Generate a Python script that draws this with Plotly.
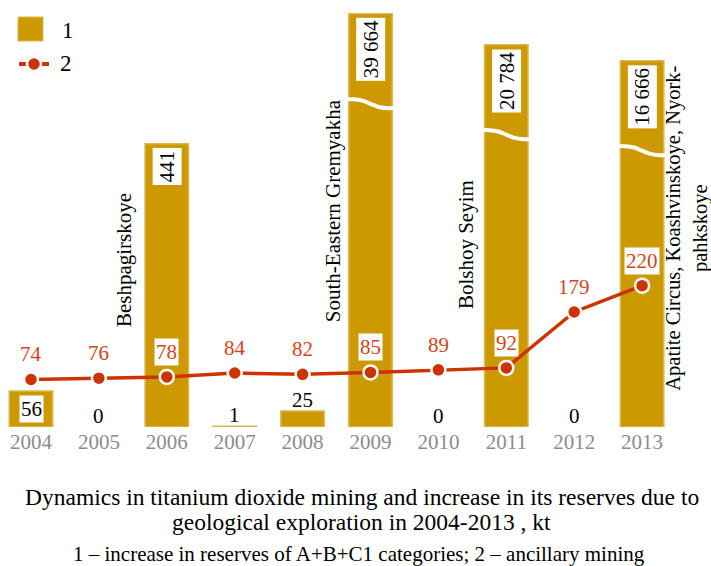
import plotly.graph_objects as go

# ---------------- data ----------------
years = [2004, 2005, 2006, 2007, 2008, 2009, 2010, 2011, 2012, 2013]
reserves_increase = [56, 0, 441, 1, 25, 39664, 0, 20784, 0, 16666]   # series 1, kt
ancillary_mining = [74, 76, 78, 84, 82, 85, 89, 92, 179, 220]         # series 2, kt
reserve_labels = ["56", "0", "441", "1", "25", "39 664", "0", "20 784", "0", "16 666"]
deposit_years = [2006, 2009, 2011, 2013]
deposit_names = ["Beshpagirskoye", "South-Eastern Gremyakha", "Bolshoy Seyim",
                 "Apatite Circus, Koashvinskoye, Nyork-<br>pahkskoye"]
title_lines = ["Dynamics in titanium dioxide mining and increase in its reserves due to",
               "geological exploration in 2004-2013 , kt"]
caption = "1 – increase in reserves of A+B+C1 categories; 2 – ancillary mining"
legend_names = ["1", "2"]

# ---------------- style ----------------
FONT = "Liberation Serif"
GOLD = "#cc9900"
GOLD_EDGE = "#dbb84d"
RED = "#cc3300"
RED_TXT = "#d2441c"
GRAY = "#8c8c8c"
W, H = 711, 566
MT, MB = 10, 139
PLOT_H = H - MT - MB
Y_MAX = 649
X0 = 2004 - 31 / 67.9
X1 = X0 + W / 67.9
BREAK_AT = 1000          # values above this are drawn on a broken (compressed) scale


def drawn(v):
    """Height used for drawing: linear below the break, saturating-compressed above it."""
    if v == 0:
        return None
    if v <= BREAK_AT:
        return v
    return 696 - 2.1e6 / v


bar_heights = [drawn(v) for v in reserves_increase]

fig = go.Figure()
fig.add_trace(go.Bar(
    x=years, y=bar_heights, width=0.64,
    marker=dict(color=GOLD, line=dict(color=GOLD_EDGE, width=1.5)),
    hoverinfo="skip", name=legend_names[0],
))

# break marks on the compressed bars
for yr, v, h in zip(years, reserves_increase, bar_heights):
    if v > BREAK_AT:
        yb = h - 140
        dx = [-0.36, -0.25, -0.12, 0, 0.12, 0.25, 0.36]
        dy = [7, 7, 5, 0, -5, -7, -7]
        fig.add_trace(go.Scatter(
            x=[yr + d for d in dx], y=[yb + d for d in dy], mode="lines",
            line=dict(color="white", width=4, shape="spline"),
            hoverinfo="skip", showlegend=False,
        ))

fig.add_trace(go.Scatter(
    x=years, y=ancillary_mining, mode="lines+markers",
    line=dict(color=RED, width=3.5),
    marker=dict(color=RED, size=14, line=dict(color="white", width=2.5)),
    name=legend_names[1],
))

ann = []
# bar value labels
for yr, v, h, lab in zip(years, reserves_increase, bar_heights, reserve_labels):
    if h is None or h < 50:
        ann.append(dict(x=yr, y=(h or 0), text=lab, showarrow=False, yanchor="bottom",
                        yshift=-3, font=dict(family=FONT, size=21, color="black")))
    elif len(lab) <= 2:
        ann.append(dict(x=yr, y=h, text=lab, showarrow=False, yanchor="top", yshift=-4,
                        bgcolor="white", borderpad=1,
                        font=dict(family=FONT, size=21, color="black")))
    else:
        ann.append(dict(x=yr, y=h, text=lab, showarrow=False, yanchor="top", yshift=-4,
                        textangle=-90, bgcolor="white", borderpad=2,
                        font=dict(family=FONT, size=21, color="black")))

# line value labels
for yr, v, h in zip(years, ancillary_mining, bar_heights):
    inside = h is not None and h > v
    ann.append(dict(x=yr, y=v, text=str(v), showarrow=False, yanchor="middle", yshift=25,
                    bgcolor="white" if inside else None, borderpad=1,
                    font=dict(family=FONT, size=21, color=RED_TXT)))

# deposit names
dep_pos = {2006: (-0.62, 152, "bottom"), 2009: (-0.56, 160, "bottom"),
           2011: (-0.59, 180, "bottom"), 2013: (0.66, 310, "middle")}
for yr, name in zip(deposit_years, deposit_names):
    dx, yy, ya = dep_pos[yr]
    ann.append(dict(x=yr + dx, y=yy, text=name, showarrow=False, textangle=-90,
                    yanchor=ya, align="center",
                    font=dict(family=FONT, size=21 if yr != 2013 else 20.5, color="black")))


def py(px):
    return (H - MB - px) / PLOT_H


# titles
ann.append(dict(xref="paper", yref="paper", x=0.509, y=py(497), text=title_lines[0],
                showarrow=False, yanchor="middle", font=dict(family=FONT, size=23.5, color="black")))
ann.append(dict(xref="paper", yref="paper", x=0.509, y=py(522), text=title_lines[1],
                showarrow=False, yanchor="middle", font=dict(family=FONT, size=23.5, color="black")))
ann.append(dict(xref="paper", yref="paper", x=0.505, y=py(554), text=caption,
                showarrow=False, yanchor="middle", font=dict(family=FONT, size=21, color="black")))

# legend (drawn)
ann.append(dict(xref="paper", yref="paper", x=60 / W, y=py(30), text=legend_names[0], xanchor="left",
                showarrow=False, yanchor="middle", font=dict(family=FONT, size=23, color="black")))
ann.append(dict(xref="paper", yref="paper", x=58 / W, y=py(64), text=legend_names[1], xanchor="left",
                showarrow=False, yanchor="middle", font=dict(family=FONT, size=23, color="black")))
shapes = [
    dict(type="rect", xref="paper", yref="paper", x0=18 / W, x1=43 / W, y0=py(41), y1=py(17),
         fillcolor=GOLD, line=dict(color=GOLD_EDGE, width=1)),
    dict(type="line", xref="paper", yref="paper", x0=19 / W, x1=49 / W, y0=py(64), y1=py(64),
         line=dict(color=RED, width=4)),
    dict(type="circle", xref="paper", yref="paper", x0=27 / W, x1=41 / W, y0=py(71), y1=py(57),
         fillcolor=RED, line=dict(color="white", width=2.5)),
]

fig.update_layout(
    width=W, height=H, margin=dict(l=0, r=0, t=MT, b=MB, pad=0),
    paper_bgcolor="white", plot_bgcolor="white", showlegend=False,
    xaxis=dict(range=[X0, X1], tickvals=years, ticktext=[str(y) for y in years],
               tickfont=dict(family=FONT, size=21, color=GRAY), showgrid=False,
               zeroline=False, showline=False, ticks="", fixedrange=True),
    yaxis=dict(range=[0, Y_MAX], visible=False, fixedrange=True),
    annotations=ann, shapes=shapes,
    font=dict(family=FONT),
)

fig.write_html("out.html", post_script="document.body.style.margin='0';",
               config={"displayModeBar": False})
